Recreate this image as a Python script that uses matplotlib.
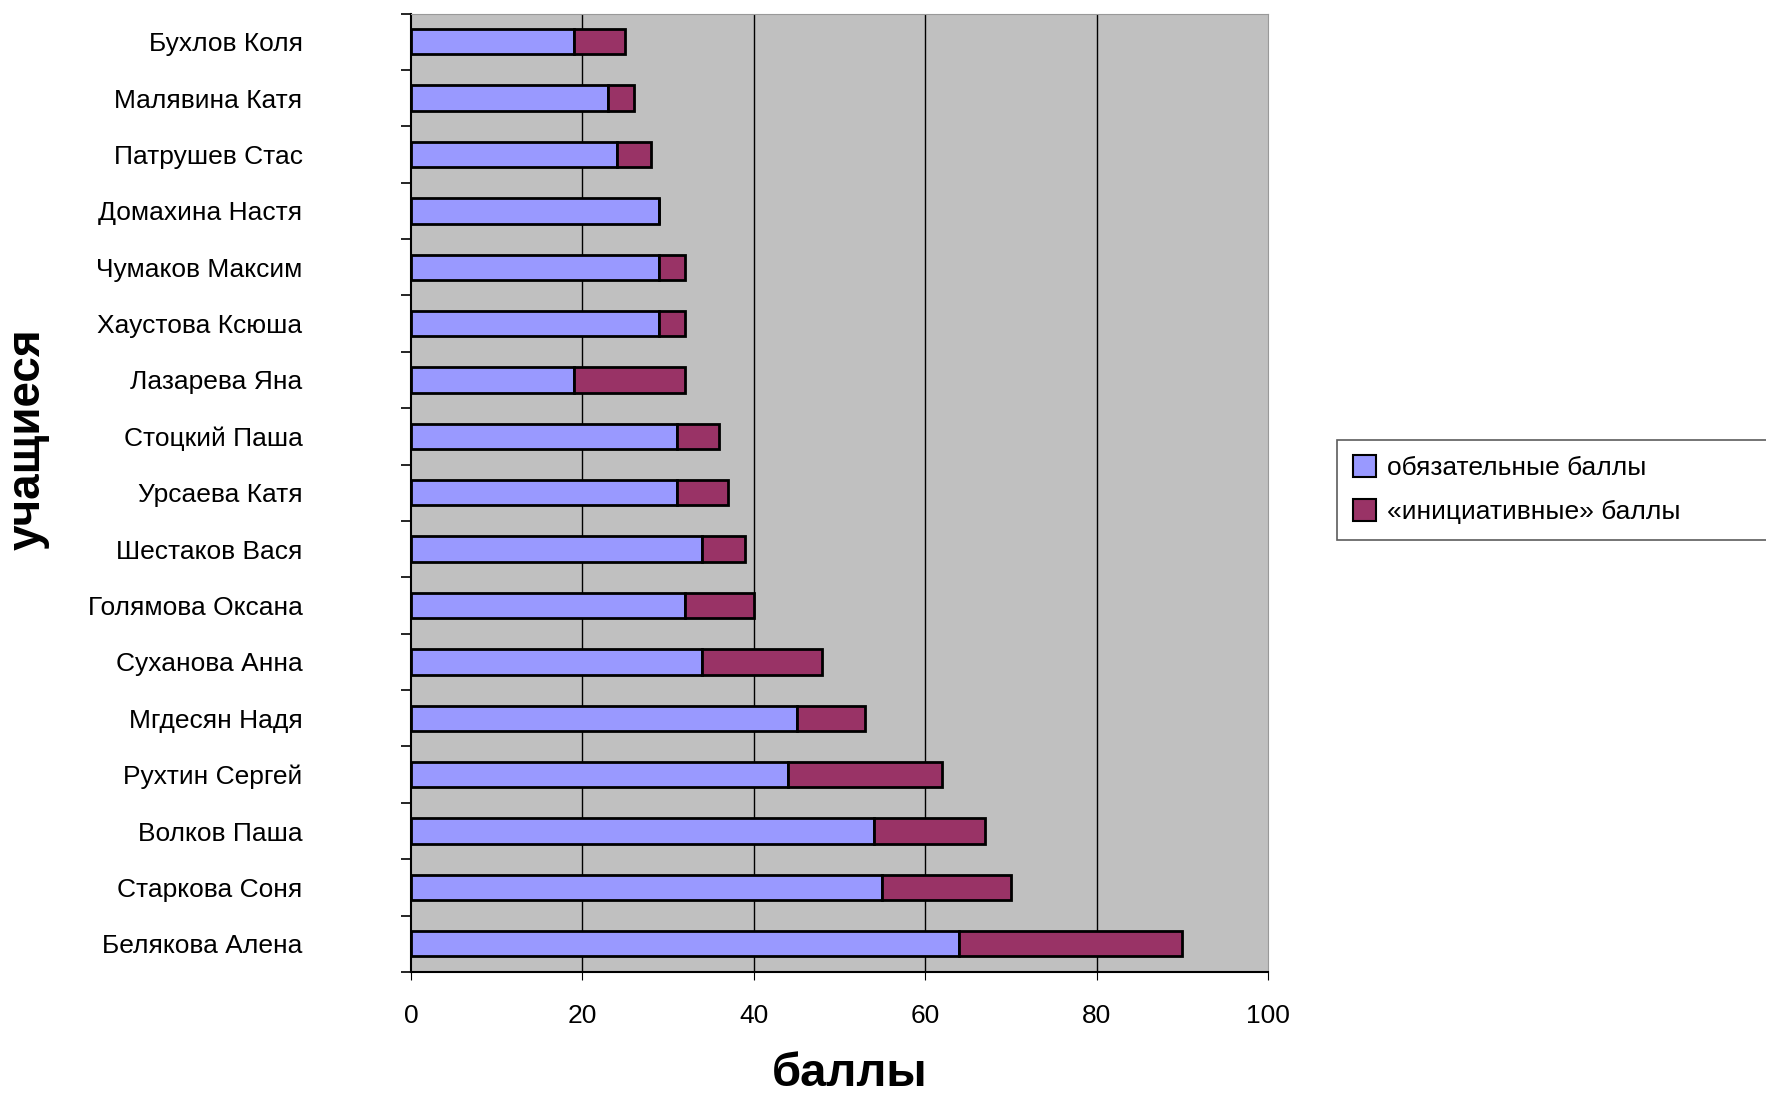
import matplotlib.pyplot as plt
import numpy as np

plt.rcParams['font.family'] = ['Liberation Sans', 'DejaVu Sans']

# ученики сверху вниз
students = ['Бухлов Коля', 'Малявина Катя', 'Патрушев Стас', 'Домахина Настя',
            'Чумаков Максим', 'Хаустова Ксюша', 'Лазарева Яна', 'Стоцкий Паша',
            'Урсаева Катя', 'Шестаков Вася', 'Голямова Оксана', 'Суханова Анна',
            'Мгдесян Надя', 'Рухтин Сергей', 'Волков Паша', 'Старкова Соня',
            'Белякова Алена']
required = [19, 23, 24, 29, 29, 29, 19, 31, 31, 34, 32, 34, 45, 44, 54, 55, 64]
initiative = [6, 3, 4, 0, 3, 3, 13, 5, 6, 5, 8, 14, 8, 18, 13, 15, 26]
x_ticks = [0, 20, 40, 60, 80, 100]

fig = plt.figure(figsize=(17.66, 10.99), dpi=100)
ax = fig.add_axes([0.2327, 0.1156, 0.4853, 0.8721])
ax.set_facecolor('#C0C0C0')

y = np.arange(len(students))
ax.barh(y, required, height=0.45, color='#9999FF', edgecolor='black',
        linewidth=2, label='обязательные баллы', zorder=3)
ax.barh(y, initiative, left=required, height=0.45, color='#993366',
        edgecolor='black', linewidth=2, label='«инициативные» баллы', zorder=3)

ax.set_xlim(0, 100)
ax.set_ylim(len(students) - 0.5, -0.5)
ax.set_xticks(x_ticks)
ax.set_xticklabels([str(v) for v in x_ticks], fontsize=19)
ax.tick_params(axis='x', direction='out', length=6, pad=17, color='black')

ax.set_yticks(y)
ax.set_yticklabels(students, fontsize=19)
ax.tick_params(axis='y', which='major', length=0, pad=78)
ax.set_yticks(np.arange(len(students) + 1) - 0.5, minor=True)
ax.tick_params(axis='y', which='minor', direction='out', length=7, width=1.2)

for v in x_ticks[1:-1]:
    ax.axvline(v, color='black', linewidth=1, zorder=1)

ax.spines['left'].set_linewidth(1.5)
ax.spines['bottom'].set_linewidth(1.5)
ax.spines['top'].set_color('#999999')
ax.spines['right'].set_color('#999999')

fig.text(28 / 1766, 0.60, 'учащиеся', rotation=90, fontsize=33,
         fontweight='bold', ha='center', va='center')
fig.text(0.481, 0.003, 'баллы', fontsize=34, fontweight='bold',
         ha='center', va='bottom')

leg = ax.legend(loc='upper left', bbox_to_anchor=(0.757, 0.507, 0.3, 0.093),
                bbox_transform=fig.transFigure, mode='expand', fontsize=19,
                frameon=True, fancybox=False, borderaxespad=0,
                handlelength=0.9, handleheight=0.9, handletextpad=0.4,
                labelspacing=0.7, borderpad=0.6)
leg.get_frame().set_edgecolor('#333333')
leg.get_frame().set_linewidth(1.2)
for h in leg.legend_handles:
    h.set_linewidth(1.5)

fig.savefig('out.png', dpi=100)
